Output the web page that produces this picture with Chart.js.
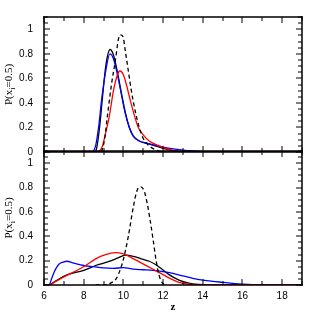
<!DOCTYPE html>
<html>
<head>
<meta charset="utf-8">
<script src="https://cdn.jsdelivr.net/npm/chart.js@4"></script>
<style>
  html, body { margin: 0; padding: 0; background: #fff; }
  #wrap { position: relative; width: 319px; height: 319px; overflow: hidden; }
  canvas { position: absolute; left: 0; }
  #cTop { top: 0; }
  #cBot { top: 134px; }
</style>
</head>
<body>
<div id="wrap">
  <canvas id="cTop" width="319" height="169"></canvas>
  <canvas id="cBot" width="319" height="185"></canvas>
</div>
<script>
// ---- data: top panel ----
const topBlackZ = [6, 8.55, 8.65, 8.8, 8.95, 9.12, 9.33, 9.5, 9.7, 9.9, 10.1, 10.3, 10.5, 10.8, 11.2, 11.6, 12.0, 12.5, 13.0, 19];
const topBlackP = [0, 0, 0.03, 0.2, 0.45, 0.71, 0.835, 0.79, 0.65, 0.48, 0.32, 0.2, 0.13, 0.09, 0.07, 0.05, 0.03, 0.012, 0, 0];
const topBlueZ = [6, 8.4, 8.6, 8.75, 8.9, 9.1, 9.32, 9.5, 9.7, 9.9, 10.1, 10.3, 10.5, 10.8, 11.2, 11.6, 12.0, 12.5, 13.0, 13.5, 14.0, 14.5, 19];
const topBlueP = [0, 0, 0.05, 0.2, 0.42, 0.65, 0.8, 0.76, 0.63, 0.47, 0.31, 0.2, 0.13, 0.09, 0.07, 0.055, 0.04, 0.025, 0.015, 0.008, 0.003, 0, 0];
const topRedZ = [6, 8.6, 8.9, 9.1, 9.3, 9.5, 9.7, 9.82, 10.0, 10.15, 10.35, 10.55, 10.75, 11.0, 11.3, 11.8, 12.2, 12.6, 13.0, 19];
const topRedP = [0, 0, 0.03, 0.15, 0.3, 0.5, 0.63, 0.66, 0.63, 0.55, 0.42, 0.3, 0.2, 0.14, 0.09, 0.05, 0.025, 0.01, 0, 0];
const topDashZ = [8.9, 9.05, 9.2, 9.4, 9.6, 9.75, 9.85, 9.98, 10.1, 10.25, 10.4, 10.6, 10.8, 11.0, 11.3, 11.6, 12.0];
const topDashP = [0, 0.1, 0.3, 0.55, 0.75, 0.92, 0.955, 0.94, 0.82, 0.66, 0.5, 0.33, 0.2, 0.11, 0.05, 0.02, 0];

// ---- data: bottom panel ----
const botBlueZ = [6, 6.25, 6.4, 6.55, 6.75, 7.0, 7.15, 7.5, 8.0, 8.5, 9.0, 9.5, 10.0, 10.5, 11.0, 11.5, 12.0, 12.5, 13.0, 13.5, 14.0, 14.5, 15.0, 15.5, 16.0, 16.5, 17.0, 19];
const botBlueP = [0, 0, 0.06, 0.12, 0.17, 0.19, 0.195, 0.18, 0.16, 0.15, 0.14, 0.137, 0.142, 0.13, 0.125, 0.12, 0.11, 0.095, 0.075, 0.055, 0.04, 0.03, 0.022, 0.014, 0.007, 0.002, 0, 0];
const botBlackZ = [6, 6.2, 6.6, 7.1, 7.5, 8.0, 8.6, 9.2, 9.7, 10.1, 10.5, 10.9, 11.3, 11.6, 11.9, 12.3, 12.8, 13.3, 13.8, 14.2, 19];
const botBlackP = [0, 0, 0.035, 0.08, 0.1, 0.12, 0.16, 0.19, 0.22, 0.245, 0.235, 0.215, 0.195, 0.17, 0.135, 0.085, 0.04, 0.015, 0.004, 0, 0];
const botRedZ = [6, 6.25, 6.6, 7.1, 7.6, 8.1, 8.6, 9.1, 9.6, 10.0, 10.4, 10.8, 11.2, 11.6, 12.0, 12.4, 12.8, 13.3, 13.8, 19];
const botRedP = [0, 0, 0.03, 0.075, 0.115, 0.16, 0.215, 0.25, 0.265, 0.255, 0.225, 0.19, 0.155, 0.12, 0.085, 0.05, 0.022, 0.006, 0, 0];
const botDashZ = [8.6, 9.2, 9.4, 9.65, 9.85, 10.0, 10.25, 10.5, 10.7, 10.88, 11.05, 11.2, 11.35, 11.5, 11.65, 11.8, 11.95, 12.1];
const botDashP = [0, 0.003, 0.02, 0.055, 0.13, 0.21, 0.4, 0.64, 0.78, 0.805, 0.77, 0.67, 0.53, 0.37, 0.2, 0.08, 0.02, 0];

const Z_MIN = 6, Z_MAX = 19;
const P_MIN = 0, P_MAX = 1.1;
const X_TICKS = [6, 8, 10, 12, 14, 16, 18];
const Y_TICKS = [0, 0.2, 0.4, 0.6, 0.8, 1];
const Y_TITLE = ['P(x', 'i', '=0.5)'];

const pts = (zs, ps) => zs.map((z, i) => ({ x: z, y: ps[i] }));

function serie(zs, ps, color, dashed) {
    return {
        data: pts(zs, ps),
        borderColor: color,
        borderWidth: 1.3,
        borderDash: dashed ? [4, 3] : [],
        pointRadius: 0,
        fill: false,
        cubicInterpolationMode: 'monotone'
    };
}

// moldura + ticks para dentro nos quatro lados (com fillRect)
const moldura = {
    id: 'moldura',
    afterDraw(chart) {
        const ctx = chart.ctx;
        const a = chart.chartArea;
        const x = chart.scales.x, y = chart.scales.y;
        const L = Math.round(a.left), R = Math.round(a.right), T = Math.round(a.top), B = Math.round(a.bottom);
        ctx.save();
        ctx.fillStyle = '#000';
        for (let v = Z_MIN; v <= Z_MAX; v++) {
            const px = Math.round(x.getPixelForValue(v));
            const len = v % 2 === 0 ? 6 : 4;
            ctx.fillRect(px - 0.5, B - len, 1, len);
            ctx.fillRect(px - 0.5, T, 1, len);
        }
        for (let i = 0; i <= 22; i++) {
            const py = Math.round(y.getPixelForValue(i * 0.05));
            const len = i % 4 === 0 ? 6 : 4;
            ctx.fillRect(L, py - 0.5, len, 1);
            ctx.fillRect(R - len, py - 0.5, len, 1);
        }
        // bordas
        ctx.fillRect(L - 0.75, T - 0.75, R - L + 1.5, 1.5);
        ctx.fillRect(L - 0.75, B - 0.75, R - L + 1.5, 1.5);
        ctx.fillRect(L - 0.75, T - 0.75, 1.5, B - T + 1.5);
        ctx.fillRect(R - 0.75, T - 0.75, 1.5, B - T + 1.5);

        // título do eixo y com subscrito
        ctx.textBaseline = 'alphabetic';
        ctx.textAlign = 'left';
        ctx.translate(12, (T + B) / 2);
        ctx.rotate(-Math.PI / 2);
        const big = '11px "Liberation Serif"', small = '8px "Liberation Serif"';
        ctx.font = big; const w0 = ctx.measureText(Y_TITLE[0]).width;
        const w2 = ctx.measureText(Y_TITLE[2]).width;
        ctx.font = small; const w1 = ctx.measureText(Y_TITLE[1]).width;
        let cx = -(w0 + w1 + w2) / 2;
        ctx.font = big; ctx.fillText(Y_TITLE[0], cx, 0); cx += w0;
        ctx.font = small; ctx.fillText(Y_TITLE[1], cx, 3); cx += w1;
        ctx.font = big; ctx.fillText(Y_TITLE[2], cx, 0);
        ctx.restore();
    }
};

function eixoY() {
    return {
        type: 'linear',
        min: P_MIN,
        max: P_MAX,
        grid: { display: false, drawTicks: false },
        border: { display: false },
        afterFit: (s) => { s.width = 44; },
        afterBuildTicks: (s) => { s.ticks = Y_TICKS.map(v => ({ value: v })); },
        ticks: {
            color: '#000',
            padding: 11,
            font: { family: '"Liberation Sans"', size: 10 },
            callback: (v) => String(Math.round(v * 10) / 10)
        }
    };
}

function eixoX(mostrar) {
    return {
        type: 'linear',
        min: Z_MIN,
        max: Z_MAX,
        display: mostrar,
        grid: { display: false, drawTicks: false },
        border: { display: false },
        afterFit: (s) => { s.height = mostrar ? 34 : 0; },
        afterBuildTicks: (s) => { s.ticks = X_TICKS.map(v => ({ value: v })); },
        ticks: {
            color: '#000',
            padding: 5,
            maxRotation: 0,
            font: { family: '"Liberation Sans"', size: 10 }
        },
        title: {
            display: mostrar,
            text: 'z',
            color: '#000',
            padding: { top: 0, bottom: 5 },
            font: { family: '"Liberation Serif"', size: 11, weight: 'bold' }
        }
    };
}

function criarPainel(id, datasets, padding, mostrarX) {
    return new Chart(document.getElementById(id), {
        type: 'line',
        data: { datasets },
        options: {
            responsive: false,
            animation: false,
            layout: { padding },
            plugins: { legend: { display: false }, tooltip: { enabled: false } },
            scales: { x: eixoX(mostrarX), y: eixoY() }
        },
        plugins: [moldura]
    });
}

criarPainel('cTop', [
    serie(topDashZ, topDashP, '#000', true),
    serie(topRedZ, topRedP, '#ff0000'),
    serie(topBlueZ, topBlueP, '#0000ff'),
    serie(topBlackZ, topBlackP, '#000')
], { top: 17, right: 17, bottom: 10, left: 0 }, false);

criarPainel('cBot', [
    serie(botDashZ, botDashP, '#000', true),
    serie(botRedZ, botRedP, '#ff0000'),
    serie(botBlueZ, botBlueP, '#0000ff'),
    serie(botBlackZ, botBlackP, '#000')
], { top: 11, right: 17, bottom: 0, left: 0 }, true);
</script>
</body>
</html>
